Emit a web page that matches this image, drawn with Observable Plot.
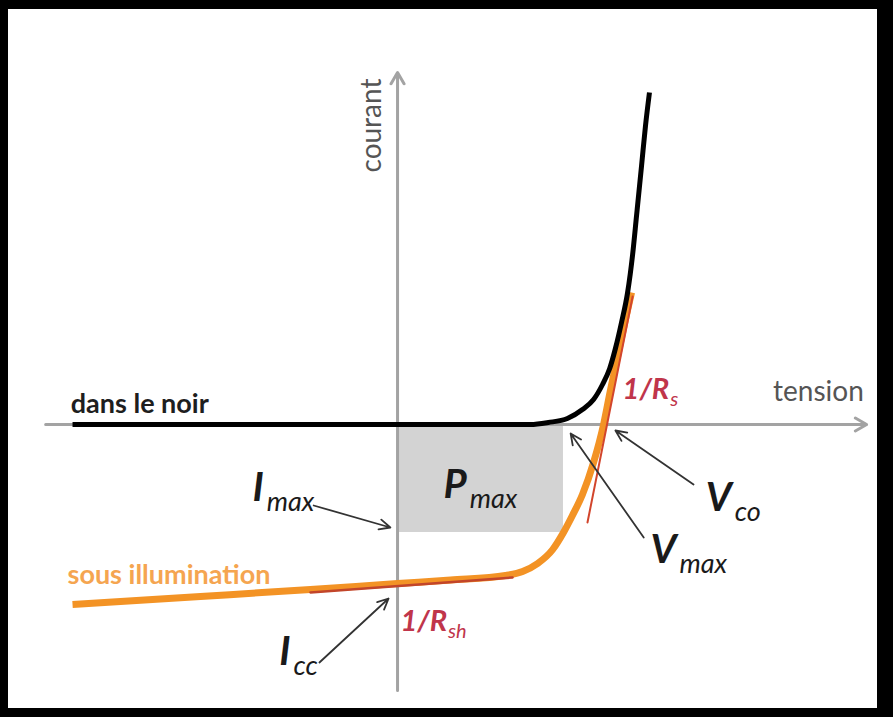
<!DOCTYPE html>
<html>
<head>
<meta charset="utf-8">
<script src="https://cdn.jsdelivr.net/npm/d3@7"></script>
<script src="https://cdn.jsdelivr.net/npm/@observablehq/plot@0.6"></script>
<style>
  html, body { margin: 0; padding: 0; background: #fff; }
  #wrap { position: relative; width: 893px; height: 717px; overflow: hidden; }
  #wrap svg { display: block; }
  #frame {
    position: absolute; left: 0; top: 0; width: 893px; height: 717px;
    box-sizing: border-box; border-style: solid; border-color: #000;
    border-width: 9px 16px 9px 8px; pointer-events: none;
  }
</style>
</head>
<body>
<div id="wrap"><div id="frame"></div></div>
<script>
// I–V characteristic of a solar cell: tension in V, courant in mA.

// Dark characteristic ("dans le noir")
const darkV = [-0.907, 0.148, 0.371, 0.421, 0.474, 0.516, 0.547, 0.572, 0.592, 0.608, 0.625, 0.642, 0.656, 0.667, 0.681, 0.692, 0.703];
const darkI = [0, 0, 0, 0.4, 1.2, 3.0, 5.0, 8.0, 11.2, 15.2, 20.4, 26.4, 34.0, 41.8, 51.8, 59.8, 66.4];

// Characteristic under illumination ("sous illumination")
const lightV = [-0.907, -0.550, -0.243, 0, 0.148, 0.301, 0.349, 0.391, 0.433, 0.463, 0.488, 0.516, 0.547, 0.575, 0.594, 0.614, 0.634, 0.653];
const lightI = [-36.0, -34.4, -33.0, -31.8, -31.1, -30.2, -29.4, -27.8, -25.0, -21.6, -18.2, -14.0, -7.6, 0, 6.8, 13.6, 20.4, 26.4];

// Characteristic points
const Vmax = 0.463;
const Imax = -21.6;

// Tangents: shunt slope (1/Rsh) near Icc, series slope (1/Rs) near Vco
const shuntV = [-0.243, 0.321];
const shuntI = [-33.6, -30.6];
const seriesV = [0.530, 0.656];
const seriesI = [-19.6, 25.6];

const dark = darkV.map((v, i) => ({V: v, I: darkI[i]}));
const light = lightV.map((v, i) => ({V: v, I: lightI[i]}));
const shunt = shuntV.map((v, i) => ({V: v, I: shuntI[i]}));
const series = seriesV.map((v, i) => ({V: v, I: seriesI[i]}));

const FONT = "Lato, 'Open Sans', sans-serif";
const ctx = document.createElement("canvas").getContext("2d");
function widthOf(s, style, weight, size) {
  ctx.font = `${style} ${weight} ${size}px Lato`;
  return ctx.measureText(s).width;
}

// A symbol with a subscript, both anchored at the symbol's baseline
function symbol(base, sub, V, I, o) {
  const w = widthOf(base, o.baseStyle, o.baseWeight, o.baseSize);
  return [
    Plot.text([base], {x: () => V, y: () => I, text: d => d, textAnchor: "start", lineAnchor: "bottom",
      fontFamily: FONT, fontSize: o.baseSize, fontStyle: o.baseStyle, fontWeight: o.baseWeight, fill: o.fill}),
    Plot.text([sub], {x: () => V, y: () => I, text: d => d, textAnchor: "start", lineAnchor: "bottom",
      dx: w + (o.gap || 0), dy: o.drop,
      fontFamily: FONT, fontSize: o.subSize, fontStyle: o.subStyle, fontWeight: o.subWeight, fill: o.fill})
  ];
}

const bigSym = {baseSize: 40, baseStyle: "italic", baseWeight: 700, subSize: 27, subStyle: "italic", subWeight: 400, fill: "#1a1a1a", drop: 10, gap: 3};
const resSym = {baseSize: 29, baseStyle: "italic", baseWeight: 700, subSize: 20, subStyle: "italic", subWeight: 400, fill: "#c0354b", drop: 7, gap: 1};

const arrowStyle = {stroke: "#333", strokeWidth: 1.8, headLength: 10, headAngle: 50};

const chart = Plot.plot({
  width: 893,
  height: 717,
  margin: 0,
  x: {domain: [-1.108, 1.384], axis: null},
  y: {domain: [-58.6, 84.8], axis: null},
  marks: [
    // maximum power rectangle
    Plot.rect([{}], {x1: 0, x2: Vmax, y1: Imax, y2: 0, fill: "#d3d3d3"}),
    // axes
    Plot.arrow([{}], {x1: -0.982, y1: 0, x2: 1.309, y2: 0, stroke: "#a3a3a3", strokeWidth: 3, headLength: 6.5, headAngle: 60}),
    Plot.arrow([{}], {x1: 0, y1: -53.2, x2: 0, y2: 70.4, stroke: "#a3a3a3", strokeWidth: 3, headLength: 6.5, headAngle: 60}),
    // curves
    Plot.line(light, {x: "V", y: "I", stroke: "#f39325", strokeWidth: 7, curve: "monotone-x", strokeLinecap: "butt"}),
    Plot.line(shunt, {x: "V", y: "I", stroke: "#c2452a", strokeWidth: 2.5}),
    Plot.line(series, {x: "V", y: "I", stroke: "#d2452c", strokeWidth: 2}),
    Plot.line(dark, {x: "V", y: "I", stroke: "#000", strokeWidth: 5, curve: "monotone-x", strokeLinecap: "butt"}),
    // annotation arrows
    Plot.arrow([{}], {x1: -0.234, y1: -16.2, x2: -0.020, y2: -20.6, ...arrowStyle}),
    Plot.arrow([{}], {x1: 0.826, y1: -12.0, x2: 0.608, y2: -1.2, ...arrowStyle}),
    Plot.arrow([{}], {x1: 0.687, y1: -22.6, x2: 0.483, y2: -1.8, ...arrowStyle}),
    Plot.arrow([{}], {x1: -0.218, y1: -47.6, x2: -0.025, y2: -34.8, ...arrowStyle}),
    // axis titles
    Plot.text(["courant"], {x: () => -0.07, y: () => 59.8, text: d => d, rotate: -90, fontFamily: FONT, fontSize: 28, fill: "#555"}),
    Plot.text(["tension"], {x: () => 1.048, y: () => 4.8, text: d => d, textAnchor: "start", lineAnchor: "bottom", fontFamily: FONT, fontSize: 28, fill: "#555"}),
    // curve names
    Plot.text(["dans le noir"], {x: () => -0.912, y: () => 2.4, text: d => d, textAnchor: "start", lineAnchor: "bottom", fontFamily: FONT, fontSize: 27, fontWeight: 700, fill: "#1e1e1e"}),
    Plot.text(["sous illumination"], {x: () => -0.921, y: () => -31.8, text: d => d, textAnchor: "start", lineAnchor: "bottom", fontFamily: FONT, fontSize: 27, fontWeight: 700, fill: "#f5a550"}),
    // symbols
    ...symbol("I", "max", -0.405, -15.2, bigSym),
    ...symbol("P", "max", 0.128, -14.6, bigSym),
    ...symbol("V", "co", 0.860, -17.2, bigSym),
    ...symbol("V", "max", 0.706, -27.6, bigSym),
    ...symbol("I", "cc", -0.330, -48.0, bigSym),
    ...symbol("1/R", "s", 0.628, 5.2, resSym),
    ...symbol("1/R", "sh", 0.008, -41.2, resSym)
  ]
});

document.getElementById("wrap").prepend(chart);
</script>
</body>
</html>
